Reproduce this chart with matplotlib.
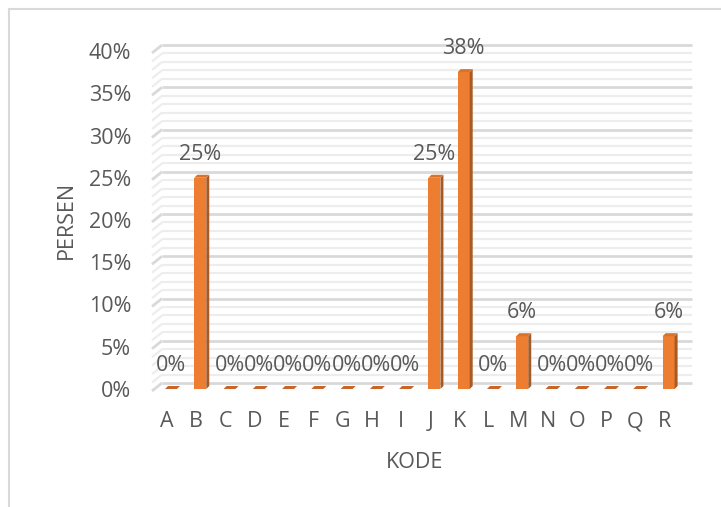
import numpy as np
import matplotlib.pyplot as plt
from matplotlib.patches import Polygon
from matplotlib.lines import Line2D

# data
kode = ['A', 'B', 'C', 'D', 'E', 'F', 'G', 'H', 'I', 'J', 'K', 'L', 'M', 'N', 'O', 'P', 'Q', 'R']
persen = [0, 0.25, 0, 0, 0, 0, 0, 0, 0, 0.25, 0.375, 0, 0.0625, 0, 0, 0, 0, 0.0625]
y_ticks = [0, 0.05, 0.10, 0.15, 0.20, 0.25, 0.30, 0.35, 0.40]

plt.rcParams['font.family'] = ['Open Sans', 'DejaVu Sans']
txt_col = '#595959'
fs = 15.5

W, H = 721, 507
fig = plt.figure(figsize=(W / 100, H / 100), dpi=100)

#   plot area in pixels
left_px, right_px = 152, 682
top_px, bot_px = 51, 389
ax = fig.add_axes([left_px / W, 1 - bot_px / H, (right_px - left_px) / W, (bot_px - top_px) / H])

sx = 29.27              # pixels per category
sy = (bot_px - top_px) / 0.4   # pixels per unit
x0 = 167                # pixel of category 0
ax.set_xlim((left_px - x0) / sx, (right_px - x0) / sx)
ax.set_ylim(0, 0.4)

px = lambda p: p / sx
py = lambda p: p / sy

#   3D-looking gridlines
xl = ax.get_xlim()
for i in range(41):
    v = i * 0.01
    major = (i % 5 == 0)
    col = '#D9D9D9' if major else '#EDEDED'
    lw = 2.0 if major else 1.6
    back = v + py(6)
    ax.plot([xl[0], xl[0] + px(10)], [v - py(2), back], color=col, lw=lw,
            clip_on=False, zorder=1, solid_capstyle='butt')
    ax.plot([xl[0] + px(10), xl[1] + px(10)], [back, back], color=col, lw=lw,
            clip_on=False, zorder=1, solid_capstyle='butt')

#   bars with side and top faces
bw = px(12)
dx, dy = px(3), py(3)
for i, val in enumerate(persen):
    xs = i + px(4) - bw / 2
    if val > 0:
        ax.bar(xs, val, width=bw, align='edge', color='#ED7D31', zorder=3)
        side = Polygon([[xs + bw, 0], [xs + bw + dx, dy], [xs + bw + dx, val + dy], [xs + bw, val]],
                       closed=True, color='#A85A22', zorder=3, lw=0)
        ax.add_patch(side)
    top = Polygon([[xs, val], [xs + bw, val], [xs + bw + dx, val + dy], [xs + dx, val + dy]],
                  closed=True, color='#C8652A' if val == 0 else '#D9732C', zorder=4, lw=0)
    ax.add_patch(top)
    ax.annotate('{:.0f}%'.format(val * 100), (i + px(4), val), xytext=(0, 17),
                textcoords='offset points', ha='center', va='center',
                fontsize=fs, color=txt_col, zorder=5)

ax.set_xticks(range(len(kode)))
ax.set_xticklabels(kode)
ax.set_yticks(y_ticks)
ax.set_yticklabels(['{:.0f}%'.format(t * 100) for t in y_ticks])
ax.tick_params(axis='both', length=0, colors=txt_col, labelsize=fs)
ax.tick_params(axis='y', pad=15)
ax.tick_params(axis='x', pad=16)
for s in ax.spines.values():
    s.set_visible(False)
ax.patch.set_visible(False)

fig.text(66 / W, 1 - 220 / H, 'PERSEN', rotation=90, ha='center', va='center',
         fontsize=fs, color=txt_col)
fig.text(415 / W, 1 - 462 / H, 'KODE', ha='center', va='center',
         fontsize=fs, color=txt_col)

#   chart border (runs off the right and bottom)
fig.add_artist(Line2D([9 / W, 9 / W], [0, 1 - 9 / H], transform=fig.transFigure, color='#D9D9D9', lw=1.5))
fig.add_artist(Line2D([9 / W, 1], [1 - 9 / H, 1 - 9 / H], transform=fig.transFigure, color='#D9D9D9', lw=1.5))

fig.savefig('out.png', dpi=100)
